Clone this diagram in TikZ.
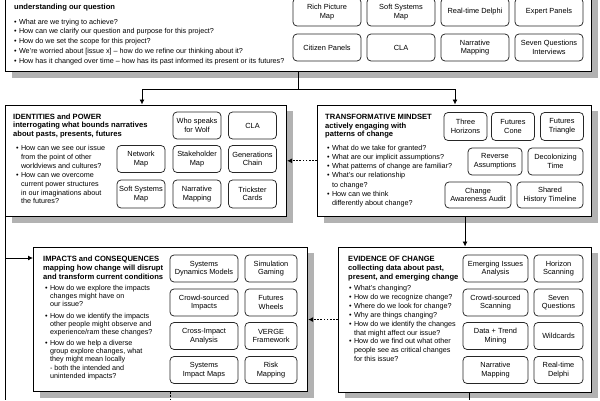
\documentclass[tikz,border=0pt]{standalone}
\usepackage{fontspec}
\setmainfont{Liberation Sans}
\usetikzlibrary{arrows.meta,shadows}
\begin{document}
\begin{tikzpicture}[x=1pt,y=-1pt,
  mainbox/.style={draw=black, line width=1.1pt, fill=white, inner sep=0pt, anchor=north west,
     drop shadow={shadow xshift=6pt, shadow yshift=-6pt, fill=black!30, opacity=1}},
  tool/.style={draw=black!85, line width=0.75pt, rounded corners=4pt, fill=white, align=center,
     inner sep=1pt, font=\fontsize{7.4}{8.6}\selectfont},
  ttl/.style={anchor=base west, inner sep=0pt},
  txt/.style={anchor=base west, inner sep=0pt},
  link/.style={line width=0.9pt, draw=black},
  arrowed/.style={-{Latex[length=5pt,width=5pt]}},
  dotline/.style={dash pattern=on 1.6pt off 1.6pt}
]
\fill[white] (0,0) rectangle (600,400);
\useasboundingbox (0,0) rectangle (600,400);

% ---------- main boxes ----------
\node[mainbox, minimum width=586pt, minimum height=81pt] (frame) at (5,-10) {};
\node[mainbox, minimum width=281pt, minimum height=111.5pt] (ident) at (5,104.5) {};
\node[mainbox, minimum width=274pt, minimum height=111.5pt] (transf) at (317,104.5) {};
\node[mainbox, minimum width=274pt, minimum height=144.5pt] (impact) at (33,246.5) {};
\node[mainbox, minimum width=253pt, minimum height=145pt] (evid) at (338,246.5) {};

% ---------- top box ----------
\node[ttl] (frameT) at (14,0.7) {\bfseries\fontsize{7.6}{8.8}\selectfont
  \begin{tabular}[t]{@{}l@{}}ISSUE FRAMING\\understanding our question\end{tabular}};
\node[txt] (frameB) at (14,24) {\fontsize{7.2}{9.83}\selectfont
  \begin{tabular}[t]{@{}l@{\hspace{2.3pt}}l@{}}
  \textbullet & What are we trying to achieve?\\
  \textbullet & How can we clarify our question and purpose for this project?\\
  \textbullet & How do we set the scope for this project?\\
  \textbullet & We’re worried about [issue x] – how do we refine our thinking about it?\\
  \textbullet & How has it changed over time – how has its past informed its present or its futures?
  \end{tabular}};
\node[tool, minimum width=68pt, minimum height=28pt] (t1) at (327,12) {Rich Picture\\Map};
\node[tool, minimum width=68pt, minimum height=28pt] (t2) at (401,12) {Soft Systems\\Map};
\node[tool, minimum width=68pt, minimum height=28pt] (t3) at (475,12) {Real-time Delphi};
\node[tool, minimum width=68pt, minimum height=28pt] (t4) at (549,12) {Expert Panels};
\node[tool, minimum width=68pt, minimum height=27pt] (t5) at (327,47.5) {Citizen Panels};
\node[tool, minimum width=68pt, minimum height=27pt] (t6) at (401,47.5) {CLA};
\node[tool, minimum width=68pt, minimum height=27pt] (t7) at (475,47.5) {Narrative\\Mapping};
\node[tool, minimum width=68pt, minimum height=27pt] (t8) at (549,47.5) {Seven Questions\\Interviews};

% ---------- identities ----------
\node[ttl] (identT) at (13,119.2) {\bfseries\fontsize{7.6}{8.7}\selectfont
  \begin{tabular}[t]{@{}l@{}}IDENTITIES and POWER\\interrogating what bounds narratives\\about pasts, presents, futures\end{tabular}};
\node[txt] (identB) at (16,150.5) {\fontsize{7.2}{8.9}\selectfont
  \begin{tabular}[t]{@{}l@{\hspace{2.3pt}}l@{}}
  \textbullet & How can we see our issue\\
  & from the point of other\\
  & worldviews and cultures?\\
  \textbullet & How can we overcome\\
  & current power structures\\
  & in our imaginations about\\
  & the futures?
  \end{tabular}};
\node[tool, minimum width=48pt, minimum height=27pt] (i1) at (197,125.5) {Who speaks\\for Wolf};
\node[tool, minimum width=48pt, minimum height=27pt] (i2) at (252.5,125.5) {CLA};
\node[tool, minimum width=48pt, minimum height=27pt] (i3) at (141,159) {Network\\Map};
\node[tool, minimum width=48pt, minimum height=27pt] (i4) at (197,159) {Stakeholder\\Map};
\node[tool, minimum width=48pt, minimum height=27pt] (i5) at (252.5,159) {Generations\\Chain};
\node[tool, minimum width=48pt, minimum height=28pt] (i6) at (141,194) {Soft Systems\\Map};
\node[tool, minimum width=48pt, minimum height=28pt] (i7) at (197,194) {Narrative\\Mapping};
\node[tool, minimum width=48pt, minimum height=28pt] (i8) at (252.5,194) {Trickster\\Cards};

% ---------- transformative ----------
\node[ttl] (transfT) at (325,119.6) {\bfseries\fontsize{7.6}{8.6}\selectfont
  \begin{tabular}[t]{@{}l@{}}TRANSFORMATIVE MINDSET\\actively engaging with\\patterns of change\end{tabular}};
\node[txt] (transfB) at (327,150) {\fontsize{7.2}{9.27}\selectfont
  \begin{tabular}[t]{@{}l@{\hspace{2.3pt}}l@{}}
  \textbullet & What do we take for granted?\\
  \textbullet & What are our implicit assumptions?\\
  \textbullet & What patterns of change are familiar?\\
  \textbullet & What’s our relationship\\
  & to change?\\
  \textbullet & How can we think\\
  & differently about change?
  \end{tabular}};
\node[tool, minimum width=43pt, minimum height=28pt] (m1) at (465.5,126.5) {Three\\Horizons};
\node[tool, minimum width=43pt, minimum height=28pt] (m2) at (513,126.5) {Futures\\Cone};
\node[tool, minimum width=43pt, minimum height=28pt] (m3) at (562,126.5) {Futures\\Triangle};
\node[tool, minimum width=54pt, minimum height=27pt] (m4) at (495,161.5) {Reverse\\Assumptions};
\node[tool, minimum width=55pt, minimum height=27pt] (m5) at (555.5,161.5) {Decolonizing\\Time};
\node[tool, minimum width=66pt, minimum height=26pt] (m6) at (478,195) {Change\\Awareness Audit};
\node[tool, minimum width=66pt, minimum height=26pt] (m7) at (550,195) {Shared\\History Timeline};

% ---------- impacts ----------
\node[ttl] (impactT) at (43,261.5) {\bfseries\fontsize{7.6}{8.8}\selectfont
  \begin{tabular}[t]{@{}l@{}}IMPACTS and CONSEQUENCES\\mapping how change will disrupt\\and transform current conditions\end{tabular}};
\node[txt] (impactB) at (45,290.3) {\fontsize{7.2}{8.3}\selectfont
  \begin{tabular}[t]{@{}l@{\hspace{2.3pt}}l@{}}
  \textbullet & How do we explore the impacts\\
  & changes might have on\\
  & our issue?\\[3pt]
  \textbullet & How do we identify the impacts\\
  & other people might observe and\\
  & experience/ram these changes?\\[2.2pt]
  \textbullet & How do we help a diverse\\
  & group explore changes, what\\
  & they might mean locally\\
  & - both the intended and\\
  & unintended impacts?
  \end{tabular}};
\node[tool, minimum width=68pt, minimum height=27pt] (p1) at (204,268.5) {Systems\\Dynamics Models};
\node[tool, minimum width=52pt, minimum height=27pt] (p2) at (271,268.5) {Simulation\\Gaming};
\node[tool, minimum width=68pt, minimum height=27pt] (p3) at (204,302.5) {Crowd-sourced\\Impacts};
\node[tool, minimum width=52pt, minimum height=27pt] (p4) at (271,302.5) {Futures\\Wheels};
\node[tool, minimum width=68pt, minimum height=27pt] (p5) at (204,336) {Cross-Impact\\Analysis};
\node[tool, minimum width=52pt, minimum height=27pt] (p6) at (271,336) {VERGE\\Framework};
\node[tool, minimum width=68pt, minimum height=27pt] (p7) at (204,370) {Systems\\Impact Maps};
\node[tool, minimum width=52pt, minimum height=27pt] (p8) at (271,370) {Risk\\Mapping};

% ---------- evidence ----------
\node[ttl] (evidT) at (348,261.5) {\bfseries\fontsize{7.6}{8.8}\selectfont
  \begin{tabular}[t]{@{}l@{}}EVIDENCE OF CHANGE\\collecting data about past,\\present, and emerging change\end{tabular}};
\node[txt] (evidB) at (349,290.5) {\fontsize{7.2}{8.9}\selectfont
  \begin{tabular}[t]{@{}l@{\hspace{2.3pt}}l@{}}
  \textbullet & What’s changing?\\
  \textbullet & How do we recognize change?\\
  \textbullet & Where do we look for change?\\
  \textbullet & Why are things changing?\\
  \textbullet & How do we identify the changes\\
  & that might affect our issue?\\
  \textbullet & How do we find out what other\\
  & people see as critical changes\\
  & for this issue?
  \end{tabular}};
\node[tool, minimum width=65pt, minimum height=27pt] (e1) at (495.5,268.5) {Emerging Issues\\Analysis};
\node[tool, minimum width=49pt, minimum height=27pt] (e2) at (558.5,268.5) {Horizon\\Scanning};
\node[tool, minimum width=65pt, minimum height=27pt] (e3) at (495.5,302.5) {Crowd-sourced\\Scanning};
\node[tool, minimum width=49pt, minimum height=27pt] (e4) at (558.5,302.5) {Seven\\Questions};
\node[tool, minimum width=65pt, minimum height=27pt] (e5) at (495.5,336) {Data + Trend\\Mining};
\node[tool, minimum width=49pt, minimum height=27pt] (e6) at (558.5,336) {Wildcards};
\node[tool, minimum width=65pt, minimum height=27pt] (e7) at (495.5,370) {Narrative\\Mapping};
\node[tool, minimum width=49pt, minimum height=27pt] (e8) at (558.5,370) {Real-time\\Delphi};

% ---------- connectors ----------
\coordinate (split) at (298,89);
\coordinate (inI) at (142,104.5);
\coordinate (inT) at (455,104.5);
\coordinate (branch) at (5,258);
\coordinate (leftEnd) at (5,400);
\coordinate (bottomEdge) at (0,400);

\draw[link] (frame.south -| split) -- (split);
\draw[link, arrowed] (split) -| (inI);
\draw[link, arrowed] (split) -| (inT);
\draw[link, dotline, arrowed] (transf.west) -- (ident.east);
\draw[link, arrowed] (evid.north |- transf.south) -- (evid.north);
\draw[link] (ident.south west) -- (leftEnd);
\draw[link, arrowed] (branch) -- (branch -| impact.west);
\draw[link, dotline, arrowed] (evid.west) -- (evid.west -| impact.east);
\draw[link, dotline] (impact.south) -- (impact.south |- bottomEdge);
\draw[link] ([xshift=4pt]evid.south) -- ([xshift=4pt]evid.south |- bottomEdge);
\end{tikzpicture}
\end{document}
